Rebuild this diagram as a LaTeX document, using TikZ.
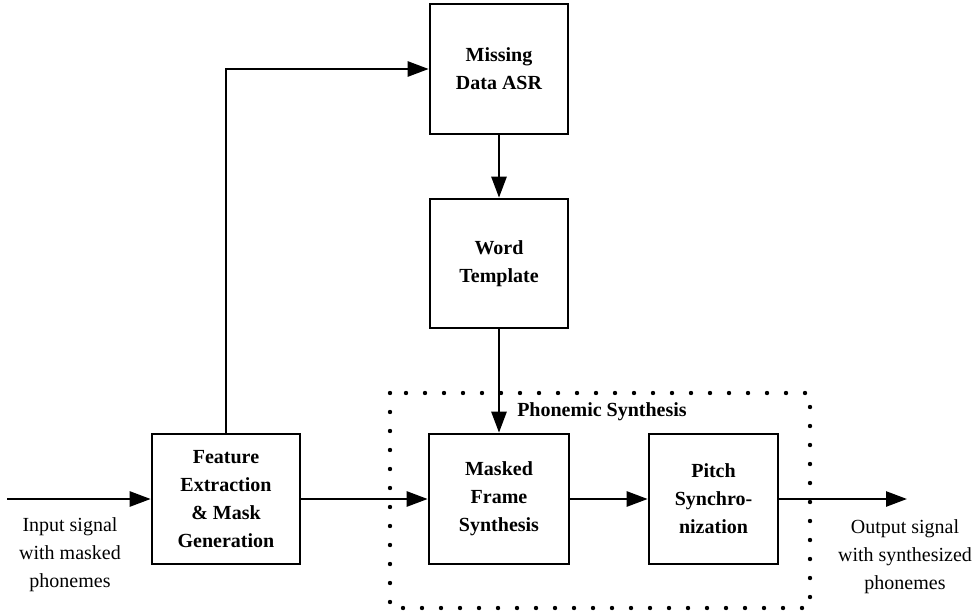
\documentclass[tikz,border=0pt]{standalone}
\usepackage{fontspec}
\setmainfont{Liberation Serif}
\usetikzlibrary{arrows.meta}

\begin{document}
\begin{tikzpicture}[x=1pt,y=-1pt,line width=2.6pt,
  font=\fontsize{20}{28}\selectfont,
  block/.style={draw,align=center,font=\fontsize{20}{28}\selectfont\bfseries,inner sep=0pt},
  flow/.style={-{Triangle[length=21pt,width=15pt]}}]
\useasboundingbox (0,0) rectangle (975,613);
% group frame
\draw[line width=4.4pt,line cap=round,dash pattern=on 0pt off 19pt] (390,393) rectangle (810,608);
\node[font=\fontsize{20}{28}\selectfont\bfseries] (grp) at (602,412) {Phonemic Synthesis};
% blocks
\node[block,minimum width=148,minimum height=130] (feat) at (226,499) {Feature\\Extraction\\\& Mask\\Generation};
\node[block,minimum width=138,minimum height=130] (asr) at (499,69) {Missing\\Data ASR};
\node[block,minimum width=138,minimum height=129] (tmpl) at (499,263.5) {Word\\Template};
\node[block,minimum width=140,minimum height=130] (mfs) at (499,499) {Masked\\Frame\\Synthesis};
\node[block,minimum width=129,minimum height=130] (pitch) at (713.5,499) {Pitch\\Synchro-\\nization};
\coordinate (in) at (7,499);
\coordinate (out) at (907,499);
\node[align=center] (inlab) at (70,555) {Input signal\\with masked\\phonemes};
\node[align=center] (outlab) at (905,557) {Output signal\\with synthesized\\phonemes};
% connections
\draw[flow] (in) -- (feat);
\draw[flow] (feat.north) |- (asr.west);
\draw[flow] (asr) -- (tmpl);
\draw[flow] (tmpl) -- (mfs);
\draw[flow] (feat) -- (mfs);
\draw[flow] (mfs) -- (pitch);
\draw[flow] (pitch) -- (out);
\end{tikzpicture}
\end{document}
